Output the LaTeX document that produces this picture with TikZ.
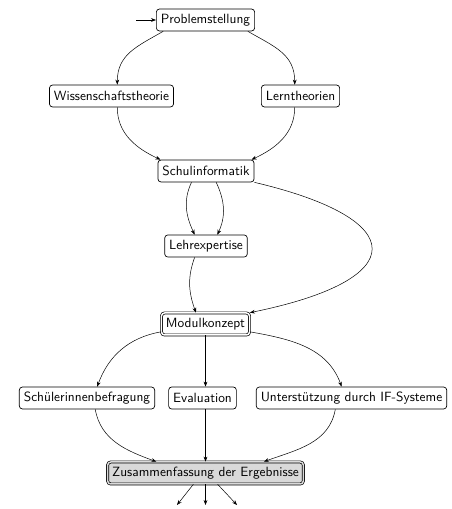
\documentclass[tikz,border=0pt]{standalone}
\usetikzlibrary{arrows.meta}
\begin{document}
\begin{tikzpicture}[x=0.8pt,y=0.8pt,
  box/.style={draw,rounded corners=2.5pt,font=\sffamily\fontsize{10.7}{13}\selectfont,minimum height=17.6pt,inner sep=2.5pt,inner xsep=3.6pt,line width=0.55pt},
  dbox/.style={box,double,double distance=1.2pt},
  gbox/.style={box,double=gray!30,double distance=1.2pt,fill=gray!30},
  arr/.style={-{Stealth[length=4pt,width=3pt]},line width=0.4pt}]
\useasboundingbox (0,0) rectangle (452,509);
\node[box] (P) at (205.5,489) {Problemstellung};
\node[box] (W) at (111.5,413) {Wissenschaftstheorie};
\node[box] (L) at (300.5,413) {Lerntheorien};
\node[box] (S) at (206,338) {Schulinformatik};
\node[box] (Le) at (206,263) {Lehrexpertise};
\node[dbox] (M) at (205.5,185) {Modulkonzept};
\node[box] (Sb) at (87,111) {Schülerinnenbefragung};
\node[box] (E) at (202.5,111) {Evaluation};
\node[box] (U) at (351.5,111) {Unterstützung durch IF-Systeme};
\node[gbox] (Z) at (205.5,36) {Zusammenfassung der Ergebnisse};
\coordinate (in) at (136,489);
\coordinate (o1) at (177,4);
\coordinate (o2) at (205.5,4);
\coordinate (o3) at (237,4);
\draw[arr] (in) -- (P);
\draw[arr] (P.-165) to[out=-150,in=90,looseness=1.1] (W.63);
\draw[arr] (P.-15) to[out=-30,in=90,looseness=1.1] (L.117);
\draw[arr] (W.-63) to[out=-90,in=155] (S.166);
\draw[arr] (L.-117) to[out=-90,in=25] (S.14);
\draw[arr] (S.-142) to[out=-115,in=115] (Le.135);
\draw[arr] (S.-48) to[out=-65,in=65] (Le.45);
\draw[arr] (S.south east) .. controls +(157,-37) and +(162,33) .. (M.north east);
\draw[arr] (Le.-135) to[out=-110,in=110] (M.130);
\draw[arr] (M.-170) to[out=190,in=70] (Sb.48);
\draw[arr] (M.south) -- (M.south |- E.north);
\draw[arr] (M.-10) to[out=-10,in=110] (U.131);
\draw[arr] (Sb.-54) to[out=-80,in=160] (Z.167);
\draw[arr] (E.south -| Z.north) -- (Z.north);
\draw[arr] (U.-145) to[out=-100,in=20] (Z.11);
\draw[arr] (Z.-137) -- (o1);
\draw[arr] (Z.south) -- (o2);
\draw[arr] (Z.-43) -- (o3);
\end{tikzpicture}
\end{document}
